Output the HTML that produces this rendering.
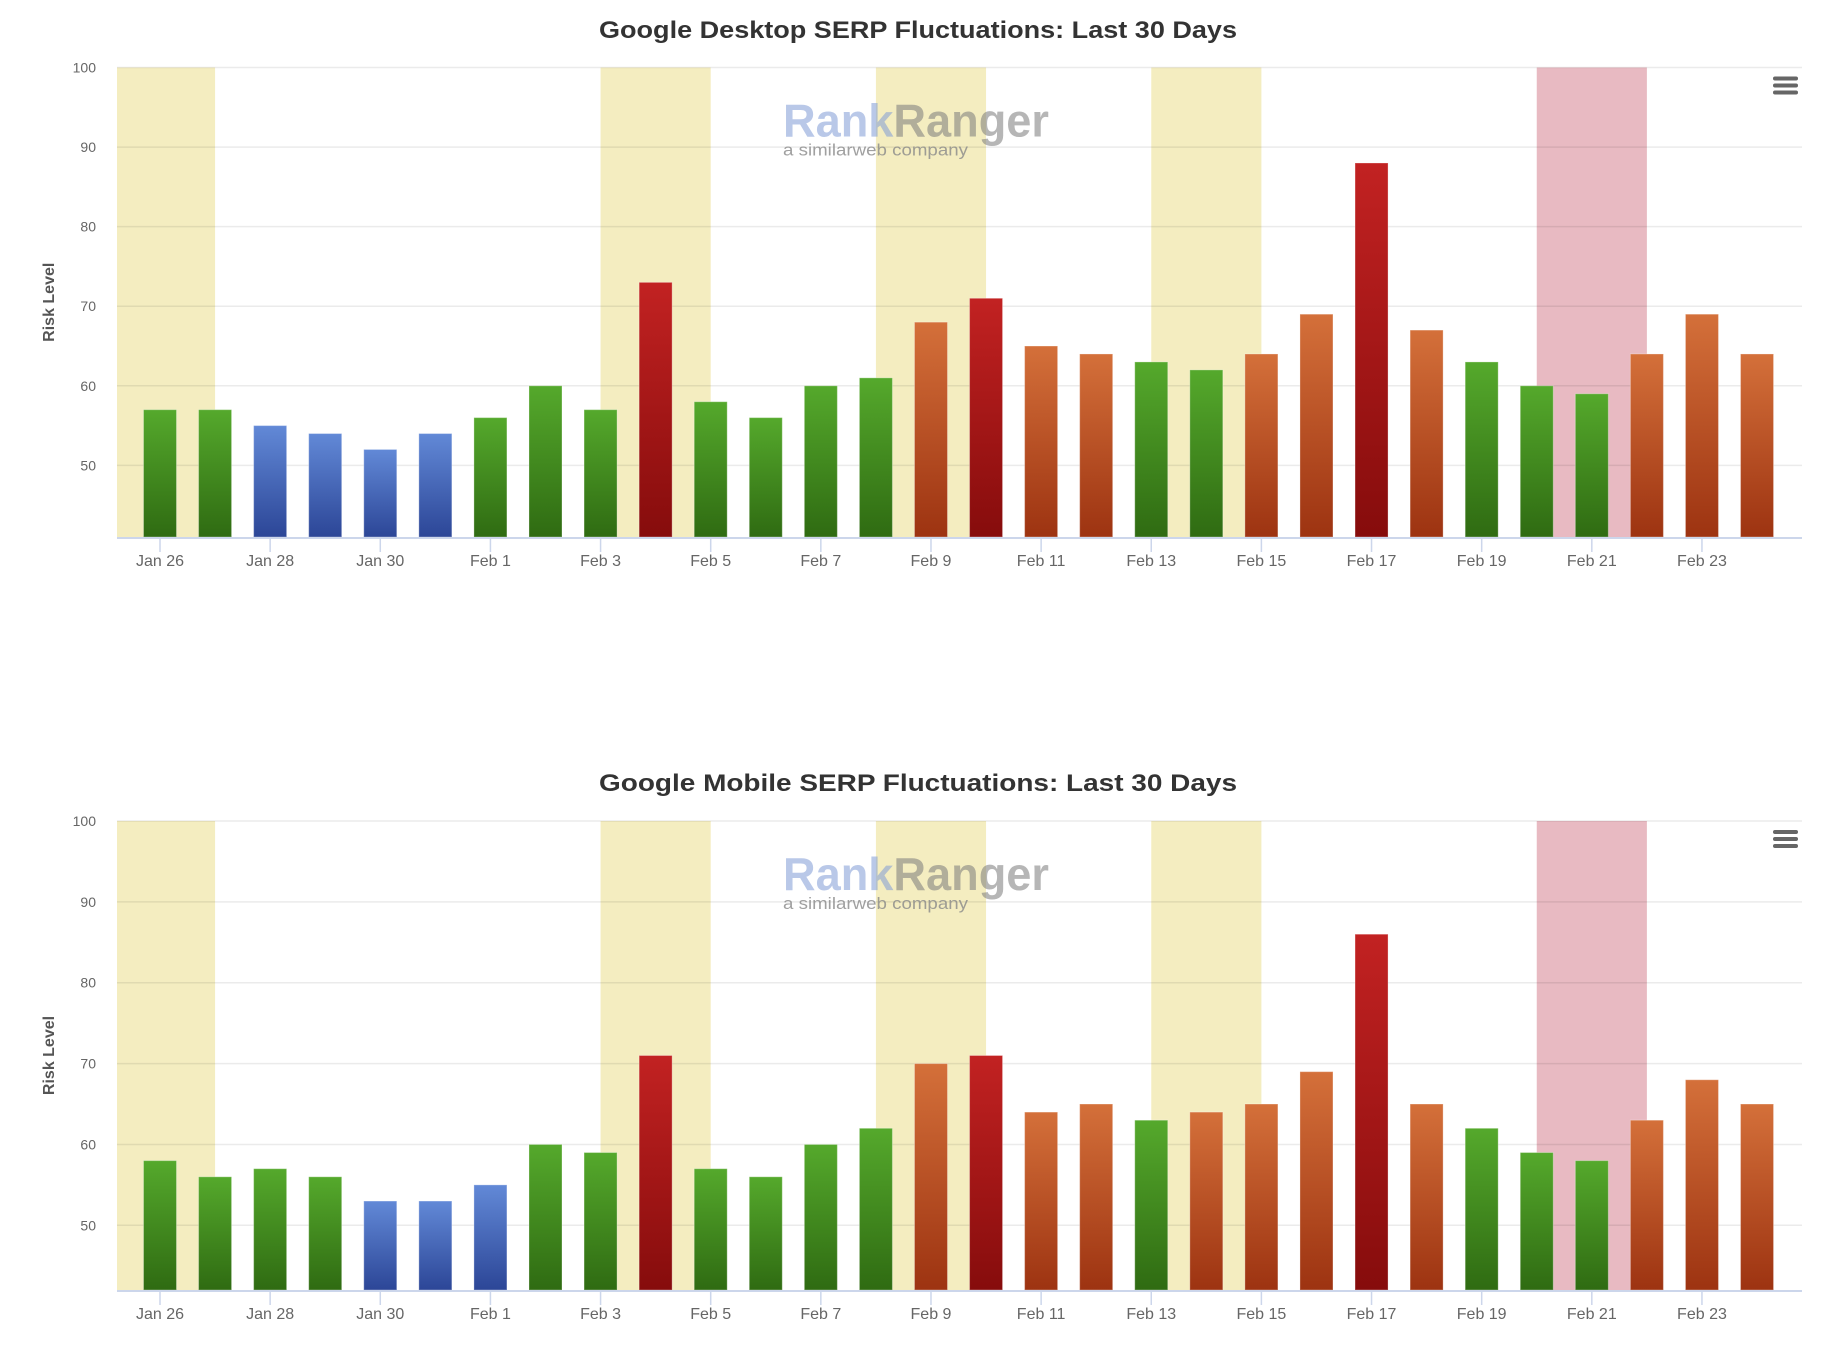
<!DOCTYPE html>
<html><head><meta charset="utf-8">
<style>
html,body{margin:0;padding:0;background:#fff;}
svg{display:block;font-family:"Liberation Sans",sans-serif;}
</style></head>
<body>
<svg id="root" width="1845" height="1349" viewBox="0 0 1845 1349" xmlns="http://www.w3.org/2000/svg">
<defs>
<linearGradient id="g-green" x1="0" y1="0" x2="0" y2="1"><stop offset="0" stop-color="#55a92c"/><stop offset="1" stop-color="#2f6b12"/></linearGradient>
<linearGradient id="g-blue" x1="0" y1="0" x2="0" y2="1"><stop offset="0" stop-color="#6289d7"/><stop offset="1" stop-color="#2c4697"/></linearGradient>
<linearGradient id="g-orange" x1="0" y1="0" x2="0" y2="1"><stop offset="0" stop-color="#d4703a"/><stop offset="1" stop-color="#9d3311"/></linearGradient>
<linearGradient id="g-red" x1="0" y1="0" x2="0" y2="1"><stop offset="0" stop-color="#c22222"/><stop offset="1" stop-color="#860c0c"/></linearGradient>
</defs>
</svg>
<script>
const categories = ["Jan 26","Jan 27","Jan 28","Jan 29","Jan 30","Jan 31","Feb 1","Feb 2","Feb 3","Feb 4","Feb 5","Feb 6","Feb 7","Feb 8","Feb 9","Feb 10","Feb 11","Feb 12","Feb 13","Feb 14","Feb 15","Feb 16","Feb 17","Feb 18","Feb 19","Feb 20","Feb 21","Feb 22","Feb 23","Feb 24"];
const desktopValues = [57,57,55,54,52,54,56,60,57,73,58,56,60,61,68,71,65,64,63,62,64,69,88,67,63,60,59,64,69,64];
const desktopColors = ["green","green","blue","blue","blue","blue","green","green","green","red","green","green","green","green","orange","red","orange","orange","green","green","orange","orange","red","orange","green","green","green","orange","orange","orange"];
const mobileValues = [58,56,57,56,53,53,55,60,59,71,57,56,60,62,70,71,64,65,63,64,65,69,86,65,62,59,58,63,68,65];
const mobileColors = ["green","green","green","green","blue","blue","blue","green","green","red","green","green","green","green","orange","red","orange","orange","green","orange","orange","orange","red","orange","green","green","green","orange","orange","orange"];
const yTicks = [50,60,70,80,90,100];
const bandCenters = [0,9,14,19,26];
const bandKinds = ["yellow","yellow","yellow","yellow","pink"];

const NS = "http://www.w3.org/2000/svg";
const root = document.getElementById('root');
function mk(tag, attrs, parent){const e=document.createElementNS(NS,tag);for(const k in attrs)e.setAttribute(k,attrs[k]);(parent||root).appendChild(e);return e;}

function drawChart(opts){
  const g = mk('g',{});
  
  
  const L=117,R=1802,top=opts.top,bot=opts.bottom,yMin=opts.yMin;
  const yS = v => bot - (v - yMin) * (bot - top) / (100 - yMin);
  const xS = i => 160 + 55.07 * i;
  const t = mk('text',{x:918,y:opts.titleY,'text-anchor':'middle','font-size':24,'font-weight':'bold',fill:'#333',textLength:638,lengthAdjust:'spacingAndGlyphs'},g);
  t.textContent = opts.title;
  
  
  bandCenters.forEach((c,k)=>{
    const x0=Math.max(L,xS(c-1)), x1=Math.min(R,xS(c+1));
    const b = mk('rect',{x:x0,y:top,width:x1-x0,height:bot-top,fill:bandKinds[k]==='pink'?'#e8bac2':'#f4edc0'},g);
    
    
  });
  yTicks.forEach(v=>{
    const y=yS(v);
    const gl = mk('line',{x1:L,x2:R,y1:y,y2:y,stroke:'rgba(0,0,0,0.08)','stroke-width':1.5},g);
    
    
    const lab = mk('text',{x:96,y:y+5,'text-anchor':'end','font-size':14,fill:'#666'},g);
    lab.textContent = v;
    
    
  });
  const wm = mk('text',{x:783,y:top+69,'font-size':46,'font-weight':'bold','fill-opacity':0.55,textLength:266,lengthAdjust:'spacingAndGlyphs'},g);
  wm.innerHTML = '<tspan fill="#7f9bd6">Rank</tspan><tspan fill="#7a7a7a">Ranger</tspan>';
  
  
  const wm2 = mk('text',{x:783,y:top+88,'font-size':17,fill:'#888','fill-opacity':0.8,textLength:185,lengthAdjust:'spacingAndGlyphs'},g);
  wm2.textContent = 'a similarweb company';
  
  
  opts.values.forEach((v,i)=>{
    const y=yS(v);
    const r = mk('rect',{x:xS(i)-16.5,y:y,width:33,height:bot-y,fill:'url(#g-'+opts.colors[i]+')',stroke:'rgba(255,255,255,0.3)','stroke-width':1},g);
    
    
  });
  const ax = mk('line',{x1:L,x2:R,y1:bot+1,y2:bot+1,stroke:'#ccd6eb','stroke-width':2},g);
  
  
  categories.forEach((c,i)=>{
    if(i%2) return;
    const tk = mk('line',{x1:xS(i),x2:xS(i),y1:bot+1,y2:bot+15,stroke:'#ccd6eb','stroke-width':1.5},g);
    
    
    const lab = mk('text',{x:xS(i),y:bot+29,'text-anchor':'middle','font-size':16,fill:'#666'},g);
    lab.textContent = c;
    
    
  });
  const cy=(top+bot)/2;
  const yt = mk('text',{x:54,y:cy,'text-anchor':'middle','font-size':16,'font-weight':'bold',fill:'#555',transform:'rotate(-90 54 '+cy+')'},g);
  yt.textContent = 'Risk Level';
  
  
  const m = mk('g',{},g);
  
  
  [0,7,14].forEach(d=>mk('rect',{x:1773,y:top+9+d,width:25,height:4,rx:2,fill:'#666'},m));
}

drawChart({name:'desktop-serp-chart',title:'Google Desktop SERP Fluctuations: Last 30 Days',titleY:38,top:67.5,bottom:537,yMin:41,values:desktopValues,colors:desktopColors});
drawChart({name:'mobile-serp-chart',title:'Google Mobile SERP Fluctuations: Last 30 Days',titleY:791,top:821,bottom:1290,yMin:42,values:mobileValues,colors:mobileColors});
</script>
</body></html>
